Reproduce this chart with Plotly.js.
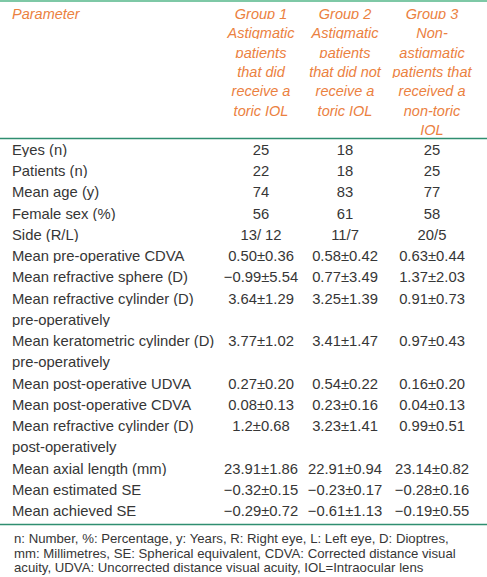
<!DOCTYPE html>
<html>
<head>
<meta charset="utf-8">
<script src="https://cdn.plot.ly/plotly-3.0.1.min.js"></script>
<style>html,body{margin:0;padding:0;background:#fff;}#chart{width:487px;height:577px;}</style>
</head>
<body>
<div id="chart"></div>
<script>
// ---- data ----
const headerLabels = [
  "Parameter",
  "Group 1|Astigmatic|patients|that did|receive a|toric IOL",
  "Group 2|Astigmatic|patients|that did not|receive a|toric IOL",
  "Group 3|Non-|astigmatic|patients that|received a|non-toric|IOL"
];
const parameters = [
  "Eyes (n)", "Patients (n)", "Mean age (y)", "Female sex (%)", "Side (R/L)",
  "Mean pre-operative CDVA", "Mean refractive sphere (D)",
  "Mean refractive cylinder (D)|pre-operatively",
  "Mean keratometric cylinder (D)|pre-operatively",
  "Mean post-operative UDVA", "Mean post-operative CDVA",
  "Mean refractive cylinder (D)|post-operatively",
  "Mean axial length (mm)", "Mean estimated SE", "Mean achieved SE"
];
const group1 = ["25", "22", "74", "56", "13/ 12", "0.50±0.36", "−0.99±5.54", "3.64±1.29", "3.77±1.02",
  "0.27±0.20", "0.08±0.13", "1.2±0.68", "23.91±1.86", "−0.32±0.15", "−0.29±0.72"];
const group2 = ["18", "18", "83", "61", "11/7", "0.58±0.42", "0.77±3.49", "3.25±1.39", "3.41±1.47",
  "0.54±0.22", "0.23±0.16", "3.23±1.41", "22.91±0.94", "−0.23±0.17", "−0.61±1.13"];
const group3 = ["25", "25", "77", "58", "20/5", "0.63±0.44", "1.37±2.03", "0.91±0.73", "0.97±0.43",
  "0.16±0.20", "0.04±0.13", "0.99±0.51", "23.14±0.82", "−0.28±0.16", "−0.19±0.55"];
const footnoteLines = [
  "n: Number, %: Percentage, y: Years, R: Right eye, L: Left eye, D: Dioptres,",
  "mm: Millimetres, SE: Spherical equivalent, CDVA: Corrected distance visual",
  "acuity, UDVA: Uncorrected distance visual acuity, IOL=Intraocular lens"
];

// ---- build table columns (one visual line per table row, no automatic wrapping) ----
const nb = s => s.replace(/ /g, "\u00a0");
const hSplit = headerLabels.map(s => s.split("|"));
const nHeadRows = Math.max(...hSplit.map(a => a.length));
const headerCols = hSplit.map(a => Array.from({length: nHeadRows}, (_, i) => nb(a[i] || "")));

const bodyCols = [[], [], [], []];
parameters.forEach((p, i) => {
  const parts = p.split("|");
  parts.forEach((part, j) => {
    bodyCols[0].push(nb(part));
    bodyCols[1].push(j === 0 ? nb(group1[i]) : "");
    bodyCols[2].push(j === 0 ? nb(group2[i]) : "");
    bodyCols[3].push(j === 0 ? nb(group3[i]) : "");
  });
});

const W = 487, H = 577;
const FONT = "Liberation Sans, Arial, sans-serif";
const textColor = "#363636";
const orange = "#EB813F";

const trace = {
  type: "table",
  domain: {x: [4 / W, 478 / W], y: [0, 1]},
  columnwidth: [214, 86, 82, 92],
  header: {
    values: headerCols,
    height: 19.4,
    align: ["left", "center", "center", "center"],
    font: {family: FONT, size: 14.5, color: orange, style: "italic"},
    fill: {color: "white"},
    line: {width: 0, color: "white"}
  },
  cells: {
    values: bodyCols,
    height: 21.25,
    align: ["left", "center", "center", "center"],
    font: {family: FONT, size: 14.8, color: textColor},
    fill: {color: "white"},
    line: {width: 0, color: "white"}
  }
};

function py(p) { return 1 - p / H; }
const shapes = [
  {type: "line", xref: "paper", yref: "paper", x0: 0, x1: 1, y0: py(1), y1: py(1), line: {color: "#7EC8A6", width: 2.2}},
  {type: "line", xref: "paper", yref: "paper", x0: 0, x1: 1, y0: py(138.5), y1: py(138.5), line: {color: "#2F8E70", width: 1.3}},
  {type: "line", xref: "paper", yref: "paper", x0: 0, x1: 1, y0: py(524.5), y1: py(524.5), line: {color: "#2F8E70", width: 1.3}}
];
const footY = [538.5, 553, 567.5];
const annotations = footnoteLines.map((t, i) => ({
  text: t, xref: "paper", yref: "paper", x: 12 / W, y: py(footY[i]),
  xanchor: "left", yanchor: "middle", showarrow: false,
  font: {family: FONT, size: 13.2, color: textColor}
}));

Plotly.newPlot("chart", [trace], {
  width: W, height: H,
  margin: {l: 0, r: 0, t: 0, b: 0, pad: 0},
  paper_bgcolor: "white",
  shapes: shapes,
  annotations: annotations
}, {displayModeBar: false, staticPlot: true});
</script>
</body>
</html>
